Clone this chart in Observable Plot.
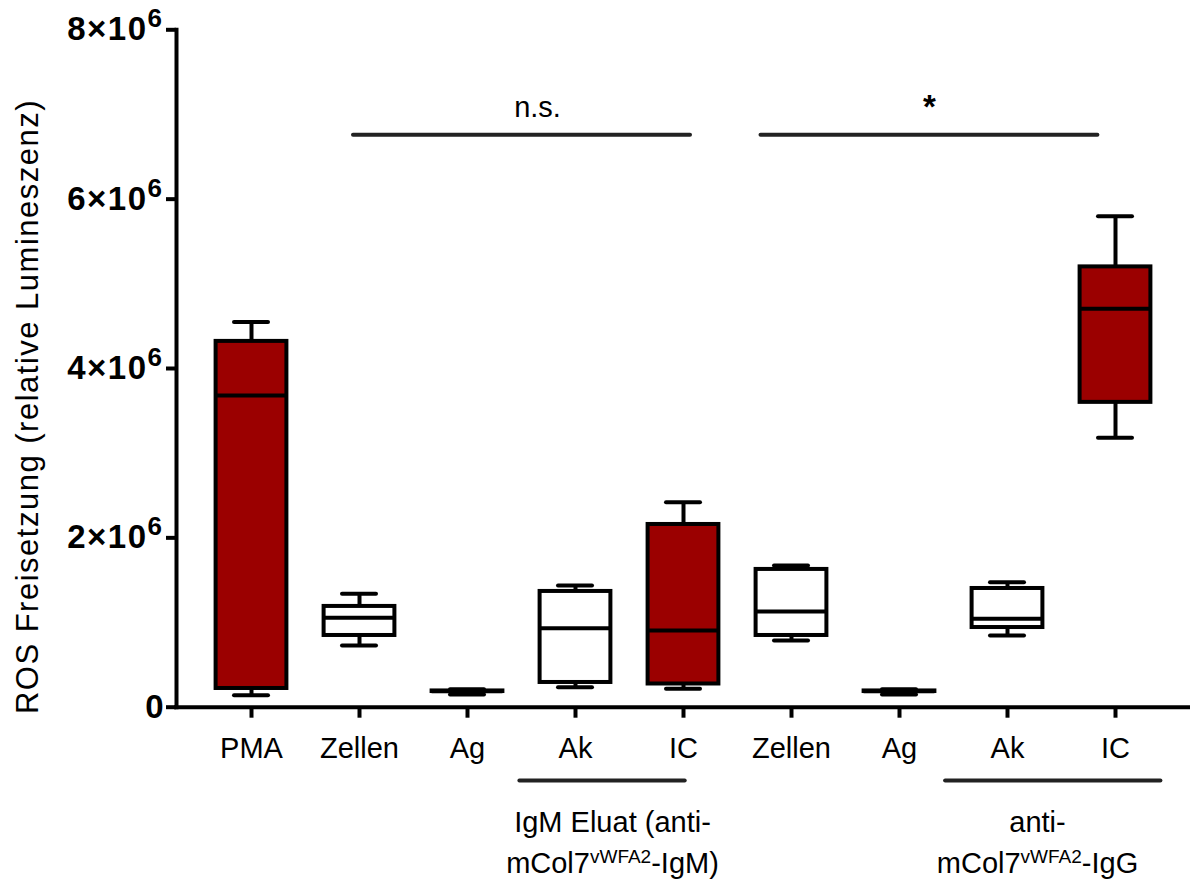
<!DOCTYPE html>
<html>
<head>
<meta charset="utf-8">
<script src="https://cdn.jsdelivr.net/npm/d3@7"></script>
<script src="https://cdn.jsdelivr.net/npm/@observablehq/plot@0.6"></script>
<style>html,body{margin:0;padding:0;background:#fff;}</style>
</head>
<body>
<div id="chart"></div>
<script>
// ---- data (values in units of 10^6 relative luminescence) ----
const keys = ["PMA", "Zellen1", "Ag1", "Ak1", "IC1", "Zellen2", "Ag2", "Ak2", "IC2"];
const tickLabels = ["PMA", "Zellen", "Ag", "Ak", "IC", "Zellen", "Ag", "Ak", "IC"];
const mins    = [0.142, 0.729, 0.150, 0.236, 0.217, 0.788, 0.150, 0.847, 3.182];
const q1s     = [0.221, 0.847, 0.185, 0.292, 0.274, 0.847, 0.185, 0.941, 3.600];
const medians = [3.680, 1.056, 0.188, 0.933, 0.906, 1.130, 0.188, 1.044, 4.706];
const q3s     = [4.320, 1.190, 0.192, 1.367, 2.158, 1.627, 0.192, 1.402, 5.200];
const maxs    = [4.548, 1.340, 0.213, 1.438, 2.420, 1.674, 0.213, 1.477, 5.797];
const stimulated = [true, false, false, false, true, false, false, false, true];
const yTicks = [0, 2e6, 4e6, 6e6, 8e6];
const yTickLabels = ["0", "2×10^6", "4×10^6", "6×10^6", "8×10^6"];
const yTitle = "ROS Freisetzung (relative Lumineszenz)";
const sigBrackets = [
  {from: "Zellen1", to: "IC1", y: 6.76e6, at: "Ag1", label: "n.s."},
  {from: "Zellen2", to: "IC2", y: 6.76e6, at: "Ag2", label: "*"}
];
const groupBrackets = [
  {from: "Ak1", to: "IC1", at: "Ak1", label: "IgM Eluat (anti-\nmCol7^vWFA2^-IgM)"},
  {from: "Ak2", to: "IC2", at: "Ak2", label: "anti-\nmCol7^vWFA2^-IgG"}
];

const rows = keys.map((k, i) => ({
  key: k, min: mins[i] * 1e6, q1: q1s[i] * 1e6, median: medians[i] * 1e6,
  q3: q3s[i] * 1e6, max: maxs[i] * 1e6, stim: stimulated[i]
}));
const labelOf = Object.fromEntries(keys.map((k, i) => [k, tickLabels[i]]));
const yLabelOf = new Map(yTicks.map((v, i) => [v, yTickLabels[i]]));

const RED = "#9b0000";
const SW = 4;
const boxInset = 18.6;
const capInset = 37;

const plot = Plot.plot({
  width: 1192,
  height: 879,
  marginLeft: 176,
  marginRight: 2,
  marginTop: 29.3,
  marginBottom: 172.3,
  style: {fontFamily: "'Liberation Sans', Arial, Helvetica, sans-serif", fontSize: "29px", color: "#000", background: "#fff"},
  x: {type: "band", domain: keys, paddingInner: 0, paddingOuter: 0.1667},
  y: {domain: [0, 8e6]},
  color: {type: "identity"},
  marks: [
    // whiskers
    Plot.ruleX(rows, {x: "key", y1: "min", y2: "q1", stroke: "#000", strokeWidth: SW}),
    Plot.ruleX(rows, {x: "key", y1: "q3", y2: "max", stroke: "#000", strokeWidth: SW}),
    Plot.tickY(rows, {x: "key", y: "min", stroke: "#000", strokeWidth: SW, insetLeft: capInset, insetRight: capInset, strokeLinecap: "round"}),
    Plot.tickY(rows, {x: "key", y: "max", stroke: "#000", strokeWidth: SW, insetLeft: capInset, insetRight: capInset, strokeLinecap: "round"}),
    // boxes
    Plot.barY(rows, {x: "key", y1: "q1", y2: "q3", fill: d => d.stim ? RED : "#fff", stroke: "#000", strokeWidth: SW, insetLeft: boxInset, insetRight: boxInset}),
    Plot.tickY(rows, {x: "key", y: "median", stroke: "#000", strokeWidth: SW, insetLeft: boxInset, insetRight: boxInset}),
    // axes
    Plot.frame({anchor: "left", stroke: "#000", strokeWidth: SW}),
    Plot.ruleY([0], {stroke: "#000", strokeWidth: SW, insetLeft: -2}),
    Plot.axisY({ticks: yTicks, tickSize: 10, tickPadding: 3, strokeWidth: SW, label: null, fontSize: 33, fontWeight: "bold",
      tickFormat: v => yLabelOf.get(v)}),
    Plot.axisX({tickSize: 11, tickPadding: 19, strokeWidth: SW, label: null, fontSize: 29,
      tickFormat: k => labelOf[k]}),
    // y axis title
    Plot.text([yTitle], {frameAnchor: "left", textAnchor: "middle", rotate: -90, dx: -148, dy: 38, fontSize: 31}),
    // significance brackets
    Plot.ruleY([sigBrackets[0]], {x1: "from", x2: "to", y: "y", stroke: "#222", strokeWidth: SW, strokeLinecap: "round", insetLeft: 48, insetRight: 47}),
    Plot.ruleY([sigBrackets[1]], {x1: "from", x2: "to", y: "y", stroke: "#222", strokeWidth: SW, strokeLinecap: "round", insetLeft: 23.5, insetRight: 71.6}),
    Plot.text([sigBrackets[0]], {x: "at", y: "y", text: "label", lineAnchor: "bottom", dx: 70, dy: -17.8, fontSize: 29}),
    Plot.text([sigBrackets[1]], {x: "at", y: "y", text: "label", lineAnchor: "bottom", dx: 30, dy: -16.5, fontSize: 33, fontWeight: "bold"}),
    // group brackets under the axis
    Plot.ruleY([groupBrackets[0]], {x1: "from", x2: "to", y: () => 0, dy: 73.3, stroke: "#222", strokeWidth: SW, strokeLinecap: "round", insetLeft: -1.6, insetRight: 52.3}),
    Plot.ruleY([groupBrackets[1]], {x1: "from", x2: "to", y: () => 0, dy: 73.3, stroke: "#222", strokeWidth: SW, strokeLinecap: "round", insetLeft: -7.9, insetRight: 8.6}),
    Plot.text([groupBrackets[0]], {x: "at", text: "label", frameAnchor: "bottom", lineAnchor: "top", lineHeight: 1.4, dx: 37, dy: 96, fontSize: 29}),
    Plot.text([groupBrackets[1]], {x: "at", text: "label", frameAnchor: "bottom", lineAnchor: "top", lineHeight: 1.4, dx: 30, dy: 96, fontSize: 29})
  ]
});

// superscripts and y-title spacing
const svg = d3.select(plot);
svg.selectAll('g[aria-label="y-axis tick label"] text').each(function () {
  const t = this.textContent;
  if (t.includes("^")) {
    const [base, sup] = t.split("^");
    const sel = d3.select(this);
    sel.text(base).attr("letter-spacing", 1.5);
    sel.append("tspan").attr("dy", -13).attr("font-size", 26).text(sup);
  }
});
svg.selectAll("text").filter(function () { return this.textContent === yTitle; })
  .attr("letter-spacing", 1.5);
svg.selectAll("text tspan").each(function () {
  const t = this.textContent;
  if (t.includes("^") && this.childElementCount === 0) {
    const [base, sup, rest] = t.split("^");
    const sel = d3.select(this);
    sel.text(base);
    sel.append("tspan").attr("dy", -10).attr("font-size", 19).text(sup);
    sel.append("tspan").attr("dy", 10).attr("font-size", 29).text(rest);
  }
});

document.getElementById("chart").appendChild(plot);
</script>
</body>
</html>
